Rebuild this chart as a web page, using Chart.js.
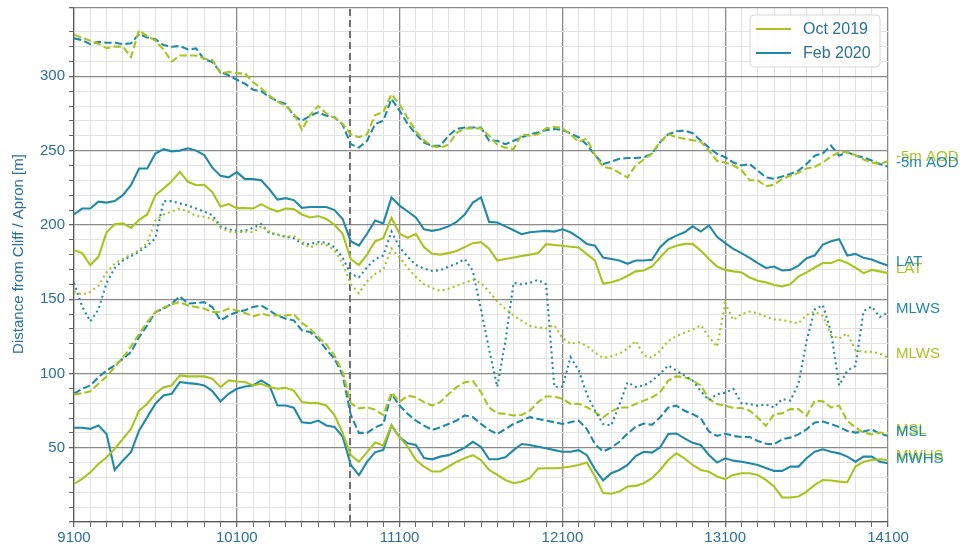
<!DOCTYPE html>
<html lang="en">
<head>
<meta charset="UTF-8">
<title>Cliff / apron distance profiles</title>
<style>
  html, body { margin: 0; padding: 0; background: #fff; }
  #wrap { width: 964px; height: 547px; position: relative; }
</style>
<script src="https://cdn.jsdelivr.net/npm/chart.js"></script>
</head>
<body>
<div id="wrap"><canvas id="chart" width="964" height="547"></canvas></div>
<script>
// chainage along the frontage (m)
const chainage = [
  9100, 9150, 9200, 9250, 9300, 9350, 9400, 9450, 9500, 9550,
  9600, 9650, 9700, 9750, 9800, 9850, 9900, 9950, 10000, 10050,
  10100, 10150, 10200, 10250, 10300, 10350, 10400, 10450, 10500, 10550,
  10600, 10650, 10700, 10750, 10800, 10850, 10900, 10950, 11000, 11050,
  11100, 11150, 11200, 11250, 11300, 11350, 11400, 11450, 11500, 11550,
  11600, 11650, 11700, 11750, 11800, 11850, 11900, 11950, 12000, 12050,
  12100, 12150, 12200, 12250, 12300, 12350, 12400, 12450, 12500, 12550,
  12600, 12650, 12700, 12750, 12800, 12850, 12900, 12950, 13000, 13050,
  13100, 13150, 13200, 13250, 13300, 13350, 13400, 13450, 13500, 13550,
  13600, 13650, 13700, 13750, 13800, 13850, 13900, 13950, 14000, 14050,
  14100
];

// distance from cliff / apron (m) for each contour
const aodOct = [
  328, 326, 324, 322, 319, 320, 320, 313, 331, 327,
  324, 318, 310, 314, 314, 314, 312, 311, 302, 303,
  302, 302, 296, 292, 287, 283, 280, 275, 264, 274,
  280, 275, 272, 268, 261, 259, 261, 274, 276, 288,
  281, 272, 263, 257, 253, 252, 254, 262, 265, 265,
  265, 260, 254, 252, 251, 261, 260, 261, 265, 266,
  265, 261, 256, 258, 247, 239, 238, 235, 232, 240,
  244, 248, 256, 261, 259, 258, 257, 256, 250, 243,
  242, 240, 237, 230, 230, 226, 227, 231, 233, 235,
  238, 239, 242, 246, 249, 249, 247, 244, 242, 241,
  243
];
const aodFeb = [
  325.6, 324.4, 321.7, 323.3, 322.6, 322.6, 321.7, 322.2, 328.5, 326.2,
  324.9, 321, 319.9, 320.4, 318.1, 318.8, 311.3, 309.7, 302.9, 300.7,
  297.7, 295, 291, 290, 286, 283.3, 281.4, 273.5, 270.1, 273.5,
  275.8, 273.5, 272.4, 267.4, 254.3, 252, 256.6, 267.9, 270.1, 284.8,
  276.9, 267.9, 261.1, 255.4, 253.2, 253.2, 260, 264.5, 265.6, 265.6,
  265.6, 256.6, 256.6, 254.3, 256.6, 258.8, 261, 262.2, 263.8, 264.5,
  264, 261.5, 259, 254, 247, 241, 242.5, 244.5, 245, 245,
  245.5, 247.8, 255.6, 261, 263, 263.5, 261.7, 256.7, 252, 247.8,
  245.5, 242, 240, 241, 236.5, 232, 231, 232.5, 234.3, 236.5,
  241, 246.6, 248.2, 253.4, 246.6, 249, 246.6, 245.5, 243.3, 241,
  239.2
];
const latOct = [
  183, 181, 173, 178.5, 195, 200.5, 201, 198, 203.4, 207,
  220, 224.4, 229.4, 235.7, 229, 226.7, 227, 222, 212.4, 214,
  211.3, 211.3, 211, 214, 211, 209, 211, 210.6, 207, 205,
  206, 204, 200, 194, 177, 173, 180, 189, 191, 204.7,
  194, 191.3, 194, 185, 180.6, 180, 181, 182.4, 185, 187.7,
  188.4, 184, 176, 177, 178, 179, 180, 181, 187, 186.5,
  186, 185.3, 184.8, 180.3, 176, 160.5, 161.4, 163, 165.8, 168.7,
  169.3, 172, 178, 183.9, 186, 187.2, 187.2, 182.7, 177, 172,
  169.7, 168.7, 168, 164.6, 162.4, 161.3, 159.6, 158.5, 160, 165.2,
  168, 171.3, 174.3, 174.3, 176.5, 174.3, 171.3, 167.5, 169.7, 168.7,
  167.5
];
const latFeb = [
  207, 211, 211, 215.6, 215, 216, 220, 226.7, 238, 238,
  248, 251, 249.5, 250, 251.6, 250, 247, 238.5, 233, 232,
  235.5, 230.8, 230.8, 230, 224, 217, 218, 216.7, 211.5, 212,
  212, 212, 210, 204, 189, 186, 194, 203, 201, 218.5,
  213, 209, 205, 197, 196, 197, 199, 202, 207, 215,
  218.5, 202, 201.6, 199, 196.4, 193.7, 195, 195.5, 196, 195.5,
  197, 195, 191.5, 187.2, 186, 178, 177, 176, 173.8, 176,
  176, 176.5, 185, 190, 192.8, 195, 199, 195.5, 199.6, 192,
  187.7, 183.9, 181, 177.8, 174.2, 171, 172, 169.3, 169.7, 172.6,
  177.6, 179.4, 186.8, 189, 190.4, 179.4, 180.5, 177.8, 176.7, 174.5,
  172.6
];
const mlwsOct = [
  155, 153, 155, 159, 168, 174, 177, 180, 183, 188,
  203, 207, 209, 211, 209, 206, 205.5, 204, 198, 195.5,
  195, 195.5, 195, 199, 195.5, 193.3, 192, 192.5, 188.7, 184.6,
  187.5, 186.4, 183, 174, 160, 154, 162, 167, 170, 184,
  178, 171, 165, 160, 157.5, 155.5, 157, 159, 161, 163,
  161, 155, 148.5, 143.5, 139, 135.5, 132, 131, 130.3, 132.5,
  124, 120, 121, 118.5, 114, 110.5, 111.5, 113.3, 116.7, 121.9,
  112.2, 110.6, 115.2, 121.9, 125.1, 127.4, 129.6, 132.4, 124.7, 117.9,
  147.3, 136, 140, 141.6, 140.5, 138.2, 136.4, 136, 134.8, 133.7,
  139.4, 141.6, 138.7, 125.8, 123.5, 126.9, 115.6, 114.5, 114.5, 113.4,
  110.6
];
const mlwsFeb = [
  161, 145, 135, 143, 161, 171, 176, 179, 182, 186,
  191, 216, 216, 214.5, 213, 211, 209, 206.5, 199, 197,
  196, 196, 198, 200.5, 194.5, 193.5, 192, 191, 187.5, 187,
  188.5, 188, 185, 178, 167, 164.7, 171.5, 177, 179.4, 195.5,
  185, 178.5, 173, 170.6, 169, 169.5, 171.8, 174, 177, 169,
  143, 116, 91, 122, 161, 160, 161, 163, 160, 91,
  91, 111, 102, 86, 75, 66, 65, 79, 94, 91,
  91.9, 95, 99.8, 105.4, 102, 98.6, 95.2, 88, 82, 86,
  87, 89.6, 80, 79.4, 78.3, 79, 77.1, 82.8, 81.7, 93,
  122, 143, 146, 128, 92, 102, 105, 142, 145, 138,
  141
];
const mslOct = [
  85.8, 86.7, 88, 93, 98, 104.3, 110.6, 118.2, 126.7, 134.6,
  141.3, 144.3, 146.5, 148, 145.8, 144.7, 143.6, 141.3, 141.3, 143.6,
  142.5, 140.7, 138.4, 140.2, 139, 139, 139, 139.8, 134, 130,
  124.5, 119.5, 112, 101, 80, 76.5, 77.3, 75.5, 72, 87,
  81, 85, 84, 80.7, 78.4, 80.7, 86, 90.8, 94, 95,
  87.5, 77, 73.3, 72.8, 71.7, 72, 75, 80.7, 84.5, 84.5,
  83, 79.5, 79.5, 77.3, 74, 70.5, 74.4, 77.1, 77.1, 79.4,
  81.7, 83.9, 87.3, 95.2, 98, 97.5, 95.2, 91.9, 82.8, 79.4,
  78.3, 76.7, 76.7, 74.9, 70.4, 64.7, 72.6, 73.1, 76, 76,
  71.5, 81.7, 81.2, 77.1, 78.3, 68.1, 63.6, 60.2, 59, 60.2,
  59.5
];
const mslFeb = [
  86.3, 89.7, 91.9, 97.5, 102, 105.4, 109.9, 114.4, 124.5, 132.4,
  141.3, 143.6, 147, 151.9, 147, 147.4, 148, 144.7, 135.7, 139,
  141.3, 142.5, 144.7, 145.8, 142.5, 139, 136.9, 135.7, 129, 127.9,
  123.4, 116, 110, 99, 72, 60, 60, 63.7, 66, 86.3,
  78.4, 72.8, 68.3, 64.9, 62, 63.7, 66, 68.3, 71.7, 70.6,
  66, 62, 59.2, 62.6, 66, 68.3, 70.6, 69.4, 68.3, 67.2,
  66, 67.2, 68.3, 62.6, 52.5, 47.5, 50, 54, 59.5, 64,
  66.3, 65.4, 70.4, 77.1, 78.3, 74.9, 72.6, 69.9, 60.9, 57.9,
  59.5, 57.9, 57.2, 57.2, 54.5, 52.7, 52.3, 55.7, 56.8, 59,
  62.4, 67, 67.6, 65.8, 64, 61.3, 60.2, 60.9, 62.2, 59.5,
  57.9
];
const mwhsOct = [
  25.6, 29, 33.5, 39, 43.6, 49.2, 56, 62.7, 75, 79.6,
  86.3, 90.8, 91.9, 98.7, 98, 98, 98, 96.4, 90.8, 95.3,
  94.6, 94.2, 91.9, 93, 90.8, 89.7, 90.3, 88.5, 80.7, 80,
  80, 78.4, 72, 60, 45, 40.5, 47, 53.5, 51.5, 65,
  57, 50.7, 41.7, 37.3, 34, 34, 37.3, 40.6, 43, 45,
  41.7, 35, 31.7, 28.3, 26.1, 27.2, 29.5, 36, 36.2, 36.2,
  36.5, 37.3, 38.4, 40, 30.6, 19.5, 19, 20.5, 23.9, 24.3,
  26.1, 29.5, 35, 41.7, 46.2, 42.9, 38.4, 35, 33.9, 30.6,
  28.8, 31.7, 32.8, 32.8, 31.7, 28.3, 23.9, 16.5, 16.5, 17.2,
  20.5, 25, 28.3, 27.9, 27.2, 26.8, 37.3, 40.6, 41.7, 42.2,
  41.7
];
const mwhsFeb = [
  63.4, 63.4, 62.7, 65, 59.3, 35, 41.3, 47, 61.6, 70.6,
  79.6, 85.2, 86.3, 94.2, 93.5, 93, 91.9, 88.1, 81.1, 86.3,
  89.7, 91.2, 91.9, 95.3, 91.9, 78.4, 78.4, 76.9, 67.2, 66.5,
  68.3, 65, 64, 57.5, 38.5, 31.5, 40.5, 47, 48.5, 65,
  57, 53, 51.8, 43, 42.2, 44, 45, 47.3, 50, 54,
  50.5, 42.2, 42.2, 43.5, 48.4, 52.5, 51.8, 50.7, 49.6, 48.4,
  47.3, 47.3, 48.4, 45, 35.5, 28, 32.8, 35, 38.4, 44.4,
  47.3, 46.7, 50.2, 59.2, 59.6, 56.3, 53.3, 51.8, 45.1, 40,
  42.9, 41.3, 40.6, 39.5, 38.4, 36.4, 34.4, 34.4, 37.3, 37.3,
  42.9, 47.3, 48.9, 47.3, 46.2, 44, 40.6, 44, 44, 40.6,
  39.5
];

// position of the dashed marker line and the axis limits
const markerChainage = 10795;
const xRange = [9100, 14100];
const yRange = [0, 346];

const surveys = ['Oct 2019', 'Feb 2020'];
const GREEN = '#a8c41f';
const BLUE = '#2189a8';
const TEXT = '#2b7196';
const FONT = '"Liberation Sans", Arial, sans-serif';

const DASHED = [7.4, 3.2];
const DOTTED = [2, 3.3];

function series(values, name, color, dash) {
  return {
    label: name,
    endLabel: name,
    data: values.map((v, i) => ({ x: chainage[i], y: v })),
    borderColor: color,
    backgroundColor: color,
    borderWidth: 2.1,
    borderDash: dash,
    borderCapStyle: 'butt',
    pointRadius: 0,
    tension: 0,
    fill: false
  };
}

const datasets = [
  series(aodOct, '-5m AOD', GREEN, DASHED),
  series(aodFeb, '-5m AOD', BLUE, DASHED),
  series(latOct, 'LAT', GREEN, []),
  series(latFeb, 'LAT', BLUE, []),
  series(mlwsOct, 'MLWS', GREEN, DOTTED),
  series(mlwsFeb, 'MLWS', BLUE, DOTTED),
  series(mslOct, 'MSL', GREEN, DASHED),
  series(mslFeb, 'MSL', BLUE, DASHED),
  series(mwhsOct, 'MWHS', GREEN, []),
  series(mwhsFeb, 'MWHS', BLUE, []),
  {
    label: 'marker',
    data: [{ x: markerChainage, y: yRange[0] }, { x: markerChainage, y: yRange[1] }],
    borderColor: '#6e6e6e',
    borderWidth: 2,
    borderDash: [7, 4],
    pointRadius: 0,
    fill: false
  }
];

// contour names written just right of each line's last point
const endLabels = {
  id: 'endLabels',
  afterDatasetsDraw(chart) {
    const { ctx, chartArea, scales } = chart;
    ctx.save();
    ctx.font = '15px ' + FONT;
    ctx.textAlign = 'left';
    ctx.textBaseline = 'alphabetic';
    chart.data.datasets.forEach(ds => {
      if (!ds.endLabel) return;
      const last = ds.data[ds.data.length - 1];
      ctx.fillStyle = ds.borderColor;
      ctx.fillText(ds.endLabel, chartArea.right + 8, scales.y.getPixelForValue(last.y));
    });
    ctx.restore();
  }
};

// boxed legend in the upper right of the plot
const surveyLegend = {
  id: 'surveyLegend',
  afterDraw(chart) {
    const { ctx, chartArea } = chart;
    const w = 130, h = 52;
    const x = chartArea.right - 8 - w, y = chartArea.top + 7;
    ctx.save();
    ctx.beginPath();
    ctx.roundRect(x, y, w, h, 4);
    ctx.fillStyle = 'rgba(255,255,255,0.85)';
    ctx.fill();
    ctx.strokeStyle = '#d6d6d6';
    ctx.lineWidth = 1;
    ctx.stroke();
    ctx.font = '16px ' + FONT;
    ctx.textBaseline = 'middle';
    [GREEN, BLUE].forEach((c, i) => {
      const yy = y + 14 + i * 24;
      ctx.strokeStyle = c;
      ctx.lineWidth = 2.2;
      ctx.beginPath();
      ctx.moveTo(x + 6, yy);
      ctx.lineTo(x + 41, yy);
      ctx.stroke();
      ctx.fillStyle = TEXT;
      ctx.fillText(surveys[i], x + 53, yy + 1);
    });
    ctx.restore();
  }
};

const yTitle = {
  id: 'yTitle',
  afterDraw(chart) {
    const { ctx } = chart;
    ctx.save();
    ctx.translate(19, 254);
    ctx.rotate(-Math.PI / 2);
    ctx.font = '15px ' + FONT;
    ctx.fillStyle = TEXT;
    ctx.textAlign = 'center';
    ctx.textBaseline = 'middle';
    ctx.fillText('Distance from Cliff / Apron [m]', 0, 0);
    ctx.restore();
  }
};

const isMajorY = v => v % 50 === 0 || v === yRange[1];
const isMajorX = v => (v - xRange[0]) % 1000 === 0;

new Chart(document.getElementById('chart'), {
  type: 'line',
  data: { datasets },
  options: {
    responsive: false,
    animation: false,
    layout: { padding: { top: 8, right: 76, bottom: 0, left: 0 } },
    plugins: {
      legend: { display: false },
      tooltip: { enabled: false }
    },
    scales: {
      x: {
        type: 'linear',
        min: xRange[0],
        max: xRange[1],
        afterFit: s => { s.height = 25; },
        border: { color: '#5a5a5a', width: 1.2 },
        grid: {
          color: c => isMajorX(c.tick.value) ? '#8a8a8a' : '#e2e2e2',
          lineWidth: c => isMajorX(c.tick.value) ? 1.3 : 1,
          tickColor: '#666',
          tickLength: 5
        },
        ticks: {
          stepSize: 100,
          autoSkip: false,
          maxRotation: 0,
          padding: 2,
          color: TEXT,
          font: { family: FONT, size: 15 },
          callback: v => isMajorX(v) ? String(v) : ''
        }
      },
      y: {
        min: yRange[0],
        max: yRange[1],
        afterFit: s => { s.width = 74; s.paddingTop = 0; s.paddingBottom = 0; },
        border: { color: '#5a5a5a', width: 1.2 },
        grid: {
          color: c => isMajorY(c.tick.value) ? '#8a8a8a' : '#e2e2e2',
          lineWidth: c => isMajorY(c.tick.value) ? 1.3 : 1,
          tickColor: '#666',
          tickLength: 5
        },
        ticks: {
          stepSize: 10,
          autoSkip: false,
          padding: 4,
          color: TEXT,
          font: { family: FONT, size: 15 },
          callback: v => (v % 50 === 0 && v > 0) ? String(v) : ''
        }
      }
    }
  },
  plugins: [endLabels, surveyLegend, yTitle]
});
</script>
</body>
</html>
